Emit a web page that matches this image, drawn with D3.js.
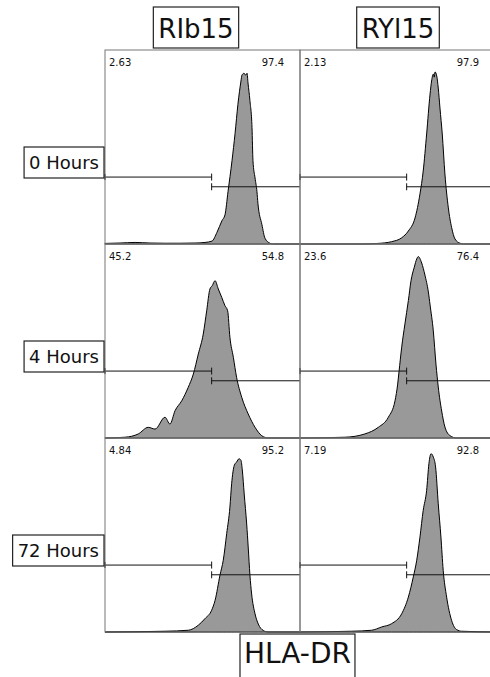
<!DOCTYPE html>
<meta charset="utf-8">
<script src="https://cdn.jsdelivr.net/npm/d3@7"></script>
<style>
body { margin: 0; background: #fff; }
text { font-family: "DejaVu Sans", sans-serif; fill: #111; }
.hist { fill: #999; stroke: #000; stroke-width: 1px; stroke-linejoin: round; }
.gate { stroke: #111; stroke-width: 1px; fill: none; }
.frame { stroke: #777; stroke-width: 1px; fill: none; }
.box { fill: #fff; stroke: #222; stroke-width: 1.2px; }
</style>
<body>
<script>

var samples = ["RIb15", "RYl15"];
var timepoints = ["0 Hours", "4 Hours", "72 Hours"];
var marker = "HLA-DR";

// histograms: channel (0-1024) and count as % of scale max
var rib0Ch = [0,79,158,236,315,394,473,525,562,588,614,630,646,667,683,698,714,719,730,740,746,751,761,772,777,788,798,803,824,840,866,880,1024];
var rib0Ct = [0.3,0.5,0.8,0.5,0.4,0.4,0.5,0.8,1.5,6,12,15,27,43,57,72,84,87,88,87,88,83,74,60,43,34,27,21,10,3,0.4,0,0];
var ryl0Ch = [0,315,410,481,534,569,604,630,647,665,683,691,700,705,709,718,726,735,747,761,779,796,814,840,860,1024];
var ryl0Ct = [0,0,0.3,1.2,3.2,6.7,13.4,25.8,37.6,56.7,77.3,84,87.6,86,88.7,86.6,80.4,70.1,56.7,36.1,18.6,8.6,2.6,0.4,0,0];
var rib4Ch = [0,105,175,227,263,315,341,368,403,437,464,490,516,534,551,563,578,595,613,630,644,656,674,691,718,752,788,823,857,1024];
var rib4Ct = [0,0.4,2.1,5.5,4.6,10.7,7.2,14.1,19.2,26.1,33,43.3,53.6,65.6,76.8,78.5,81.1,76.8,72.5,68.2,65.6,51.9,41.6,31.3,21,12.4,5.5,1.2,0,0];
var ryl4Ch = [0,236,341,411,464,499,513,520,534,551,569,583,600,613,621,639,656,674,683,700,714,726,744,761,788,823,1024];
var ryl4Ct = [0,0.4,2.1,5.5,10.7,19.2,27.8,34.2,46.8,58.8,70.8,81.1,88,92.3,93.5,90.2,84,75.3,68.6,55.2,38.1,26.3,13.9,5.7,1.2,0,0];
var rib72Ch = [0,315,437,490,525,560,578,604,621,639,656,665,679,691,704,714,721,731,744,752,761,770,788,805,831,856,1024];
var rib72Ct = [0,0.4,0.9,3.5,6.9,11.2,16.3,29.4,37,50.7,64.4,76.4,85.9,87.6,89.3,88.5,83.5,71.1,55.7,43.8,29.4,19.6,9.3,4.1,0.8,0,0];
var ryl72Ch = [0,271,376,429,481,534,569,595,613,630,647,665,677,688,700,712,726,740,752,770,796,823,849,1024];
var ryl72Ct = [0,0.4,0.9,2.6,4.3,9.4,18,28.4,37,49,62.7,73,86.8,91.9,90.2,85.1,66.1,49,31.8,18,6,1.2,0.4,0];

// gate percentages [row][col]
var pctLow = [[2.63, 2.13], [45.2, 23.6], [4.84, 7.19]];
var pctHigh = [[97.4, 97.9], [54.8, 76.4], [95.2, 92.8]];
var gateCh = 560;
var gateLevel = [34.5, 29.5]; // low gate, high gate

var hists = [
  [[rib0Ch, rib0Ct], [ryl0Ch, ryl0Ct]],
  [[rib4Ch, rib4Ct], [ryl4Ch, ryl4Ct]],
  [[rib72Ch, rib72Ct], [ryl72Ch, ryl72Ct]]
];

var width = 490, height = 677;
var left = 105, top0 = 50, pw = 195, ph = 194;

var x = d3.scaleLinear().domain([0, 1024]).range([0, pw]);
var y = d3.scaleLinear().domain([0, 100]).range([ph, 0]);

var svg = d3.select("body").append("svg")
    .attr("width", width)
    .attr("height", height);

var area = d3.area()
    .curve(d3.curveMonotoneX)
    .x(function(d) { return x(d[0]); })
    .y0(ph)
    .y1(function(d) { return y(d[1]); });

function labelBox(g, str, size, anchor, tx, ty, pad, boxTop, boxH) {
  var t = g.append("text")
      .attr("x", tx).attr("y", ty)
      .attr("text-anchor", anchor)
      .style("font-size", size + "px")
      .text(str);
  var b = t.node().getBBox();
  g.insert("rect", "text")
      .attr("class", "box")
      .attr("x", b.x - pad).attr("y", boxTop)
      .attr("width", b.width + 2 * pad).attr("height", boxH);
}

hists.forEach(function(row, r) {
  row.forEach(function(h, c) {
    var pts = d3.zip(h[0], h[1]);
    var g = svg.append("g")
        .attr("transform", "translate(" + (left + c * pw) + "," + (top0 + r * ph) + ")");

    g.append("path").attr("class", "hist").attr("d", area(pts));

    // low gate
    var gl = y(gateLevel[0]), gh = y(gateLevel[1]);
    g.append("path").attr("class", "gate")
        .attr("d", "M" + x(0) + "," + gl + "H" + x(gateCh) +
                   "M" + x(0) + "," + (gl - 3) + "V" + (gl + 3) +
                   "M" + x(gateCh) + "," + (gl - 3.5) + "V" + (gl + 3.5));
    // high gate
    g.append("path").attr("class", "gate")
        .attr("d", "M" + x(gateCh) + "," + gh + "H" + x(1024) +
                   "M" + x(gateCh) + "," + (gh - 3.5) + "V" + (gh + 3.5));

    g.append("rect").attr("class", "frame")
        .attr("x", 0).attr("y", 0).attr("width", pw).attr("height", ph);

    g.append("text").attr("x", 4).attr("y", 16)
        .style("font-size", "10px").text(pctLow[r][c]);
    g.append("text").attr("x", 179).attr("y", 16)
        .attr("text-anchor", "end")
        .style("font-size", "10px").text(pctHigh[r][c]);
  });
});

// column headers
var headX = [196, 398];
samples.forEach(function(s, i) {
  labelBox(svg.append("g"), s, 26, "middle", headX[i], 38, 5, 7, 41);
});

// row labels
timepoints.forEach(function(t, i) {
  var rt = top0 + i * ph;
  var g = svg.append("g");
  var txt = g.append("text")
      .attr("x", 99).attr("y", rt + 119)
      .attr("text-anchor", "end")
      .style("font-size", "18px")
      .text(t);
  var b = txt.node().getBBox();
  g.insert("rect", "text").attr("class", "box")
      .attr("x", b.x - 5).attr("y", rt + 97)
      .attr("width", 104 - (b.x - 5)).attr("height", 31);
});

// axis label
labelBox(svg.append("g"), marker, 28, "start", 244, 663, 4, 634, 60);

</script>
</body>
